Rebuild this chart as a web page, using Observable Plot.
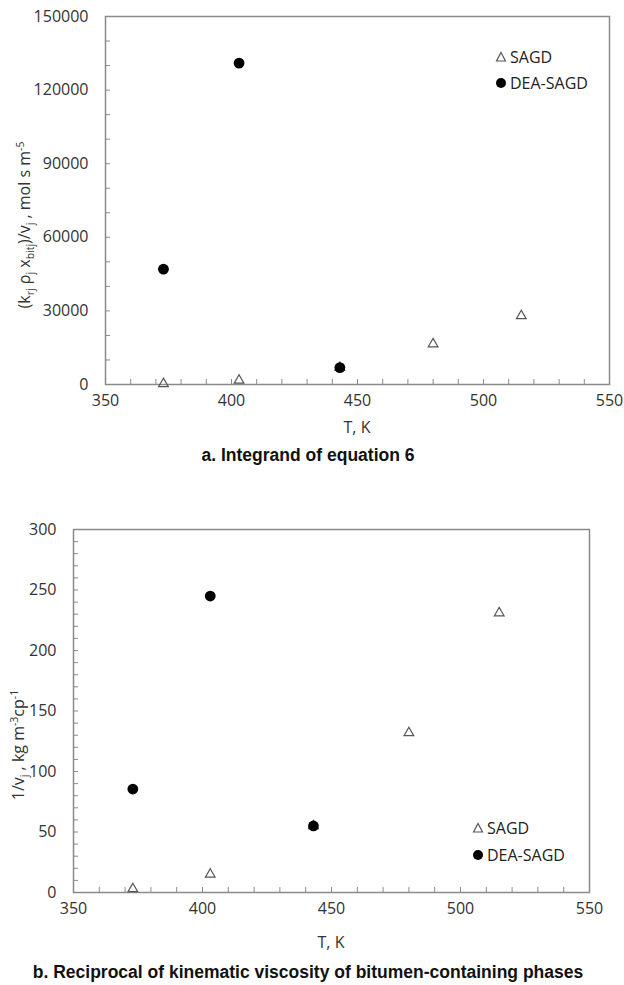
<!DOCTYPE html>
<html><head><meta charset="utf-8">
<script src="https://cdn.jsdelivr.net/npm/d3@7"></script>
<script src="https://cdn.jsdelivr.net/npm/@observablehq/plot@0.6"></script>
<style>
body{margin:0;background:#fff;font-family:"Open Sans",sans-serif;color:#333;}
#wrap{position:relative;width:624px;height:985px;overflow:hidden;background:#fff;}
.abs{position:absolute;white-space:nowrap;}
.ctr{transform:translate(-50%,-50%);}
.rot{transform:translate(-50%,-50%) rotate(-90deg);}
.axt{font-size:16px;color:#333;}
.ttl{font-family:"Liberation Sans",Arial,sans-serif;font-weight:bold;font-size:17.5px;color:#111;}
sub,sup{font-size:10.5px;line-height:0;}
.leg{font-size:16px;color:#222;display:flex;align-items:center;transform:translateY(-50%);}
.leg svg{margin-right:3px;}
</style></head><body><div id="wrap"></div>
<script>
// ---- data ----
const sagdT = [373, 403, 443, 480, 515];
const deaT = [373, 403, 443];
const sagdIntegrand = [300, 1700, 6900, 16500, 28000];
const deaIntegrand = [47000, 131000, 6900];
const sagdRecip = [3, 15, 55, 132, 231];
const deaRecip = [85.5, 245, 55];
const xTicks = [350, 400, 450, 500, 550];
const xMinor = d3.range(350, 551, 10);
const yTicksA = [0, 30000, 60000, 90000, 120000, 150000];
const yMinorA = d3.range(0, 150001, 10000);
const yTicksB = [0, 50, 100, 150, 200, 250, 300];
const yMinorB = d3.range(0, 301, 10);

const wrap = document.getElementById("wrap");
const axisGray = "#8a8a8a";

function chart({sagdY, deaY, yDomain, yTicks, yMinor, height, mt, mb, ml, mr}) {
  const sagd = sagdT.map((t, i) => ({t, v: sagdY[i]}));
  const dea = deaT.map((t, i) => ({t, v: deaY[i]}));
  return Plot.plot({
    width: 624, height,
    marginTop: mt, marginBottom: mb, marginLeft: ml, marginRight: mr,
    style: {fontFamily: "Open Sans", fontSize: "16px", color: "#333", background: "transparent", overflow: "visible"},
    x: {domain: [350, 550]},
    y: {domain: yDomain},
    marks: [
      Plot.axisX({ticks: xMinor, tickSize: 5, dy: -5, tickFormat: () => "", stroke: axisGray, label: null}),
      Plot.axisY({ticks: yMinor, tickSize: 5, dx: 5, tickFormat: () => "", stroke: axisGray, label: null}),
      Plot.axisX({ticks: xTicks, tickSize: 0, tickPadding: 10, tickFormat: d => String(d), label: null, fill: "#333"}),
      Plot.axisY({ticks: yTicks, tickSize: 0, tickPadding: 17, tickFormat: d => String(d), label: null, fill: "#333"}),
      Plot.frame({stroke: axisGray, strokeWidth: 1.5}),
      Plot.dot(sagd, {x: "t", y: "v", symbol: "triangle", r: 3.6, stroke: "#555", strokeWidth: 1.2, fill: "none"}),
      Plot.dot(dea, {x: "t", y: "v", r: 5.4, fill: "#000", stroke: "none"})
    ]
  });
}

function place(el, top) {
  el.style.position = "absolute"; el.style.left = "0px"; el.style.top = top + "px";
  wrap.appendChild(el);
}
function text(html, cls, x, y) {
  const d = document.createElement("div");
  d.className = "abs " + cls;
  d.style.left = x + "px"; d.style.top = y + "px";
  d.innerHTML = html;
  wrap.appendChild(d);
}
const triSvg = '<svg width="12" height="12"><path d="M6,1.5L10.5,10H1.5Z" fill="none" stroke="#555" stroke-width="1.2"/></svg>';
const dotSvg = '<svg width="12" height="12"><circle cx="6" cy="6" r="5" fill="#000"/></svg>';
function legend(x, y1, y2) {
  text(triSvg + "SAGD", "leg", x, y1);
  text(dotSvg + "DEA-SAGD", "leg", x, y2);
}

// chart a
place(chart({sagdY: sagdIntegrand, deaY: deaIntegrand, yDomain: [0, 150000], yTicks: yTicksA, yMinor: yMinorA,
  height: 440, mt: 16, mb: 56, ml: 105, mr: 15}), 0);
text("T, K", "axt ctr", 357, 427);
text("a. Integrand of equation 6", "ttl ctr", 308, 455);
text("(k<sub>rj</sub> ρ<sub>j</sub> x<sub>bitj</sub>)/v<sub>j</sub> , mol s m<sup>-5</sup>", "axt rot", 24, 225);
legend(495, 57, 83);

// chart b
place(chart({sagdY: sagdRecip, deaY: deaRecip, yDomain: [0, 300], yTicks: yTicksB, yMinor: yMinorB,
  height: 440, mt: 29, mb: 48, ml: 73, mr: 35}), 500);
text("T, K", "axt ctr", 331, 942);
text("b. Reciprocal of kinematic viscosity of bitumen-containing phases", "ttl ctr", 308, 972);
text("1/v<sub>j</sub> , kg m<sup>-3</sup>cp<sup>-1</sup>", "axt rot", 18, 745);
legend(472, 828, 855);
</script></body></html>
